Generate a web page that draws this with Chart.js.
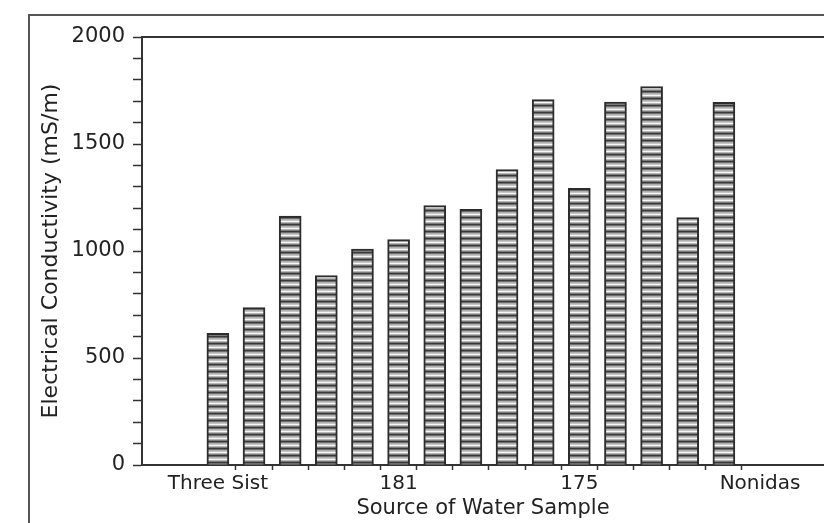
<!DOCTYPE html>
<html>
<head>
<meta charset="utf-8">
<script src="https://cdn.jsdelivr.net/npm/chart.js@4/dist/chart.umd.min.js"></script>
<style>
  html, body { margin: 0; padding: 0; background: #fff; }
  #c { display: block; }
</style>
</head>
<body>
<canvas id="c" width="824" height="523"></canvas>
<script>
// Sample slots along the x axis; only some slots carry a printed name.
const categories = ['Three Sist', '', '', '', '', '181', '', '', '', '', '175', '', '', '', '', 'Nonidas'];
// Electrical conductivity of each sample, mS/m (last slot has no bar).
const conductivity = [615, 736, 1163, 885, 1009, 1053, 1212, 1195, 1381, 1707, 1293, 1696, 1768, 1156, 1695, null];
// Y values that get a printed label (minor ticks every 100).
const yLabelledTicks = [0, 500, 1000, 1500, 2000];
const yAxisTitle = 'Electrical Conductivity (mS/m)';
const xAxisTitle = 'Source of Water Sample';

const FONT = 'DejaVu Sans';
const INK = '#222';
const LINE = '#333';

// Horizontal hatch used to fill the bars.
function stripePattern() {
  const c = document.createElement('canvas');
  c.width = 4; c.height = 7;
  const g = c.getContext('2d');
  const rows = ['#383838', '#6e6e6e', '#aeaeae', '#c6c6c6', '#f7f7f7', '#b6b6b6', '#7a7a7a'];
  rows.forEach((col, i) => { g.fillStyle = col; g.fillRect(0, i, 4, 1); });
  return g.createPattern(c, 'repeat');
}

const points = conductivity
  .map((v, i) => ({ x: i, y: v }))
  .filter(p => p.y !== null);

// Outer page frame plus the upper border of the plot.
const framePlugin = {
  id: 'frame',
  afterDraw(chart) {
    const { ctx, chartArea: a, width, height } = chart;
    ctx.save();
    ctx.lineWidth = 2;
    ctx.strokeStyle = '#555';
    ctx.beginPath();
    ctx.moveTo(29, height);
    ctx.lineTo(29, 15);
    ctx.lineTo(width, 15);
    ctx.stroke();
    ctx.strokeStyle = LINE;
    ctx.beginPath();
    ctx.moveTo(a.left, a.top);
    ctx.lineTo(a.right, a.top);
    ctx.stroke();
    ctx.restore();
  }
};

new Chart(document.getElementById('c'), {
  type: 'bar',
  data: {
    datasets: [{
      data: points,
      backgroundColor: stripePattern(),
      borderColor: '#2c2c2c',
      borderWidth: 2,
      barThickness: 22
    }]
  },
  options: {
    responsive: false,
    animation: false,
    devicePixelRatio: 1,
    layout: { padding: { top: 37, left: 0, right: 0, bottom: 0 } },
    plugins: { legend: { display: false }, tooltip: { enabled: false } },
    scales: {
      x: {
        type: 'linear',
        min: -2.1,
        max: 16.77,
        offset: false,
        afterBuildTicks(scale) {
          const t = [];
          categories.forEach((lab, i) => { if (lab) t.push({ value: i }); });
          points.forEach(p => t.push({ value: p.x + 0.5 }));
          t.sort((a, b) => a.value - b.value);
          scale.ticks = t;
        },
        afterFit(scale) { scale.height = 58; },
        ticks: {
          autoSkip: false,
          maxRotation: 0,
          padding: 2,
          color: INK,
          font: { family: FONT, size: 20 },
          callback: v => Number.isInteger(v) ? categories[v] : ''
        },
        grid: {
          drawOnChartArea: false,
          offset: false,
          tickLength: 5,
          tickWidth: 1.5,
          tickColor: c => (c.tick && Number.isInteger(c.tick.value)) ? 'rgba(0,0,0,0)' : LINE
        },
        border: { color: LINE, width: 2 },
        title: {
          display: true,
          text: xAxisTitle,
          color: INK,
          font: { family: FONT, size: 21, lineHeight: 1 },
          padding: { top: 0, bottom: 4 }
        }
      },
      y: {
        min: 0,
        max: 2000,
        afterFit(scale) { scale.width = 142; },
        ticks: {
          stepSize: 100,
          autoSkip: false,
          padding: 8,
          color: INK,
          font: { family: FONT, size: 21 },
          callback: v => yLabelledTicks.includes(v) ? String(v) : ''
        },
        grid: {
          drawOnChartArea: false,
          tickLength: 9,
          tickWidth: 1.5,
          tickColor: LINE
        },
        border: { color: LINE, width: 2 },
        title: {
          display: true,
          text: yAxisTitle,
          color: INK,
          font: { family: FONT, size: 22 },
          padding: { top: 38, bottom: 0 }
        }
      }
    }
  },
  plugins: [framePlugin]
});
</script>
</body>
</html>
